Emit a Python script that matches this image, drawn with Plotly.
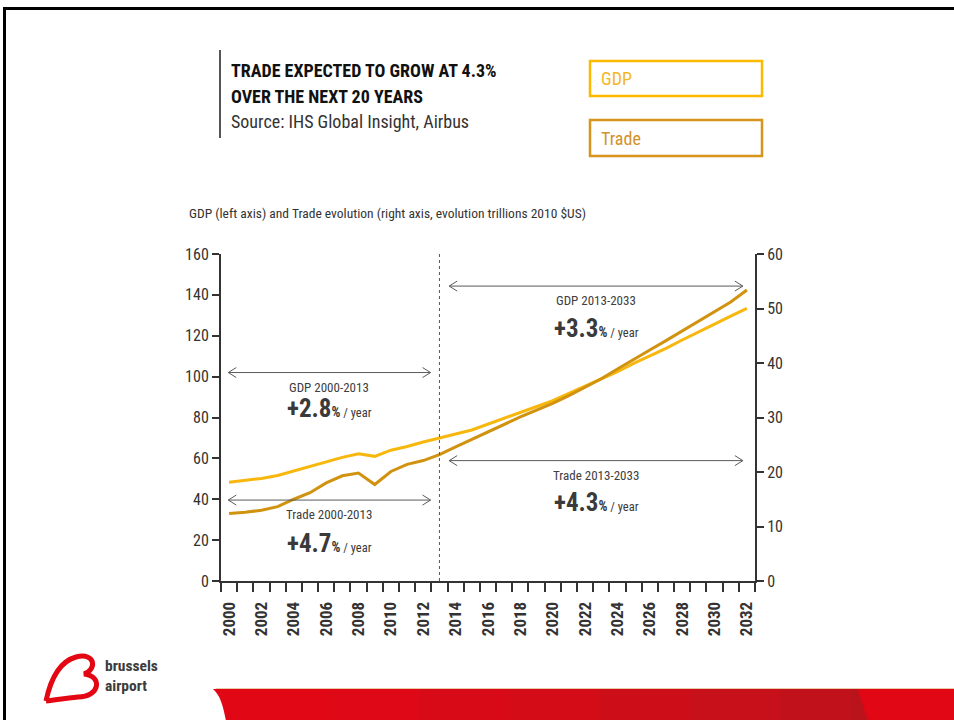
import plotly.graph_objects as go

# ---------------- data ----------------
years = list(range(2000, 2033))
gdp = [48.3, 49.3, 50.2, 51.6, 53.8, 56.0, 58.3, 60.5, 62.3, 61.0, 64.0, 65.8, 68.0, 69.8,
       71.9, 73.9, 76.8, 79.6, 82.4, 85.3, 88.2, 91.8, 95.4, 98.7, 102.4, 106.5, 110.1,
       113.8, 117.9, 122.0, 125.7, 129.6, 133.4]
trade = [12.4, 12.6, 13.0, 13.65, 15.0, 16.2, 18.0, 19.3, 19.8, 17.7, 20.1, 21.4, 22.1, 23.2,
         24.6, 26.0, 27.4, 28.7, 30.1, 31.35, 32.6, 34.0, 35.55, 37.1, 38.9, 40.7, 42.4,
         44.1, 45.9, 47.7, 49.5, 51.2, 53.4]
x_ticks = list(range(2000, 2033, 2))
left_ticks = list(range(0, 161, 20))
right_ticks = list(range(0, 61, 10))
split_year = 2013

# growth annotations: label, rate, arrow start, arrow end, arrow y (left-axis units)
periods = ["GDP 2000-2013", "Trade 2000-2013", "GDP 2013-2033", "Trade 2013-2033"]
rates = ["2.8", "4.7", "3.3", "4.3"]
arrow_x0 = [1999.95, 1999.95, 2013.6, 2013.6]
arrow_x1 = [2012.45, 2012.45, 2031.75, 2031.75]
arrow_y = [102.0, 39.6, 144.3, 58.9]
label_y = [94.8, 32.4, 137.1, 51.6]
rate_y = [84.6, 18.4, 123.6, 38.5]

# ---------------- geometry / style ----------------
W, H = 954, 720
L, R, T, B = 221, 199, 254, 139
PW, PH = W - L - R, H - T - B
FONT = "Roboto Condensed, Liberation Sans Narrow, Arial Narrow, DejaVu Sans Condensed, sans-serif"
GDP_C = "#F7B70C"
TRADE_C = "#D1930F"
AX_C = "#333333"
TXT_C = "#404040"


def px(x):
    return (x - L) / PW


def py(y):
    return (H - B - y) / PH


def ppath(points_cmds):
    out = []
    for item in points_cmds:
        if isinstance(item, str):
            out.append(item)
        else:
            out.append(f"{px(item[0]):.5f},{py(item[1]):.5f}")
    return " ".join(out)


fig = go.Figure()
fig.add_trace(go.Scatter(x=years, y=gdp, mode="lines", name="GDP",
                         line=dict(color=GDP_C, width=3), yaxis="y"))
fig.add_trace(go.Scatter(x=years, y=trade, mode="lines", name="Trade",
                         line=dict(color=TRADE_C, width=3), yaxis="y2"))

shapes = []
annotations = []

# dashed split line
shapes.append(dict(type="line", xref="x", yref="paper", x0=split_year, x1=split_year,
                   y0=0, y1=1, line=dict(color="#555555", width=1, dash="dot")))

# double arrows + text
for i in range(4):
    shapes.append(dict(type="line", xref="x", yref="y", x0=arrow_x0[i], x1=arrow_x1[i],
                       y0=arrow_y[i], y1=arrow_y[i], line=dict(color="#5a5a5a", width=1)))
    shapes.append(dict(type="path", xref="x", yref="y", xsizemode="pixel", ysizemode="pixel",
                       xanchor=arrow_x0[i], yanchor=arrow_y[i], path="M 8,5 L 0,0 L 8,-5",
                       line=dict(color="#5a5a5a", width=1)))
    shapes.append(dict(type="path", xref="x", yref="y", xsizemode="pixel", ysizemode="pixel",
                       xanchor=arrow_x1[i], yanchor=arrow_y[i], path="M -8,5 L 0,0 L -8,-5",
                       line=dict(color="#5a5a5a", width=1)))
    xm = (arrow_x0[i] + arrow_x1[i]) / 2
    annotations.append(dict(x=xm, y=label_y[i], xref="x", yref="y", text=periods[i],
                            showarrow=False, font=dict(family=FONT, size=13, color=TXT_C)))
    annotations.append(dict(x=xm, y=rate_y[i], xref="x", yref="y",
                            text=(f"<b><span style='font-size:25px'>+{rates[i]}</span>"
                                  f"<span style='font-size:14px'>%</span></b>"
                                  f"<span style='font-size:12.5px'> / year</span>"),
                            showarrow=False, font=dict(family=FONT, size=13, color="#3a3a3a")))

# title block
shapes.append(dict(type="line", xref="paper", yref="paper", x0=px(220), x1=px(220),
                   y0=py(50), y1=py(138), line=dict(color="#555555", width=2)))
annotations.append(dict(x=px(229), y=py(70.5), xref="paper", yref="paper", xanchor="left",
                        yanchor="middle", showarrow=False,
                        text="<b>TRADE EXPECTED TO GROW AT 4.3%</b>",
                        font=dict(family=FONT, size=18, color="#111111")))
annotations.append(dict(x=px(229), y=py(96.5), xref="paper", yref="paper", xanchor="left",
                        yanchor="middle", showarrow=False,
                        text="<b>OVER THE NEXT 20 YEARS</b>",
                        font=dict(family=FONT, size=18, color="#111111")))
annotations.append(dict(x=px(229), y=py(121), xref="paper", yref="paper", xanchor="left",
                        yanchor="middle", showarrow=False,
                        text="Source: IHS Global Insight, Airbus",
                        font=dict(family=FONT, size=18, color="#333333")))

# legend boxes
shapes.append(dict(type="rect", xref="paper", yref="paper", x0=px(590), x1=px(762),
                   y0=py(61), y1=py(96), line=dict(color="#FBB900", width=2.5)))
shapes.append(dict(type="rect", xref="paper", yref="paper", x0=px(590), x1=px(762),
                   y0=py(120), y1=py(156), line=dict(color="#D4951A", width=2.5)))
annotations.append(dict(x=px(599), y=py(78), xref="paper", yref="paper", xanchor="left",
                        yanchor="middle", showarrow=False, text="GDP",
                        font=dict(family=FONT, size=18, color="#F5B625")))
annotations.append(dict(x=px(599), y=py(138), xref="paper", yref="paper", xanchor="left",
                        yanchor="middle", showarrow=False, text="Trade",
                        font=dict(family=FONT, size=18, color="#D0922A")))

# subtitle
annotations.append(dict(x=px(187), y=py(213), xref="paper", yref="paper", xanchor="left",
                        yanchor="middle", showarrow=False,
                        text="GDP (left axis) and Trade evolution (right axis, evolution trillions 2010 $US)",
                        font=dict(family=FONT, size=13.5, color="#333333")))

# page frame
shapes.append(dict(type="line", xref="paper", yref="paper", x0=px(3), x1=px(954),
                   y0=py(8.5), y1=py(8.5), line=dict(color="#000000", width=3)))
shapes.append(dict(type="line", xref="paper", yref="paper", x0=px(4.5), x1=px(4.5),
                   y0=py(7), y1=py(720), line=dict(color="#000000", width=3)))

# red band at the bottom
shapes.append(dict(type="path", xref="paper", yref="paper",
                   path=ppath(["M", (213, 689), "C", (220, 695), (223, 705), (226, 721),
                               "L", (955, 721), "L", (955, 689), "Z"]),
                   fillcolor="#E20714", line=dict(width=0)))
band_cols = ["#DE0816", "#D90A17", "#D30C18", "#CD0E19", "#C7101A", "#C1111A", "#BB131B"]
bx = [330, 420, 510, 600, 690, 780, 850]
for i in range(len(bx) - 1):
    shapes.append(dict(type="rect", xref="paper", yref="paper", x0=px(bx[i]), x1=px(bx[i + 1]),
                       y0=py(721), y1=py(689), fillcolor=band_cols[i], line=dict(width=0)))
shapes.append(dict(type="path", xref="paper", yref="paper",
                   path=ppath(["M", (850, 689), "L", (858, 689), "L", (868, 721), "L", (850, 721), "Z"]),
                   fillcolor=band_cols[-1], line=dict(width=0)))
shapes.append(dict(type="line", xref="paper", yref="paper", x0=px(216), x1=px(954),
                   y0=py(688.5), y1=py(688.5), line=dict(color="#E9C9A8", width=1)))

# logo swoosh
shapes.append(dict(type="path", xref="paper", yref="paper",
                   path=ppath(["M", (46, 701), "C", (50, 682), (58, 662), (76, 657),
                               "C", (96, 652), (97, 670), (84, 674),
                               "C", (103, 676), (100, 697), (78, 697),
                               "C", (66, 698), (55, 700), (46, 701)]),
                   line=dict(color="#E30613", width=5)))
annotations.append(dict(x=px(103), y=py(676), xref="paper", yref="paper", xanchor="left",
                        yanchor="middle", align="left", showarrow=False,
                        text="<b>brussels<br>airport</b>",
                        font=dict(family=FONT, size=15.5, color="#3c3c3c")))

fig.update_layout(
    width=W, height=H,
    margin=dict(l=L, r=R, t=T, b=B, pad=0),
    paper_bgcolor="white", plot_bgcolor="white",
    showlegend=False,
    font=dict(family=FONT, color=AX_C),
    xaxis=dict(range=[1999.5, 2032.5], tickmode="array", tickvals=x_ticks,
               ticktext=[str(v) for v in x_ticks], tickangle=-90,
               ticks="outside", ticklen=12, tickcolor="rgba(0,0,0,0)",
               minor=dict(tickmode="linear", tick0=1999.5, dtick=1, ticks="outside",
                          ticklen=9, tickwidth=2, tickcolor=AX_C),
               showline=True, linecolor=AX_C, linewidth=2, showgrid=False, zeroline=False,
               tickfont=dict(family=FONT, size=17, color=AX_C, weight="bold")),
    yaxis=dict(range=[0, 160], tickmode="array", tickvals=left_ticks, ticks="outside",
               ticklen=7, tickwidth=2, tickcolor=AX_C, showline=True, linecolor=AX_C,
               linewidth=2, showgrid=False, zeroline=False,
               tickfont=dict(family=FONT, size=16, color=AX_C)),
    yaxis2=dict(range=[0, 60], tickmode="array", tickvals=right_ticks, overlaying="y",
                side="right", ticks="outside", ticklen=7, tickwidth=2, tickcolor=AX_C,
                showline=True, linecolor=AX_C, linewidth=2, showgrid=False, zeroline=False,
                tickfont=dict(family=FONT, size=16, color=AX_C)),
    shapes=shapes,
    annotations=annotations,
)

fig.write_html("out.html", config={"displayModeBar": False},
               post_script="document.body.style.margin='0px';document.body.style.padding='0px';")
